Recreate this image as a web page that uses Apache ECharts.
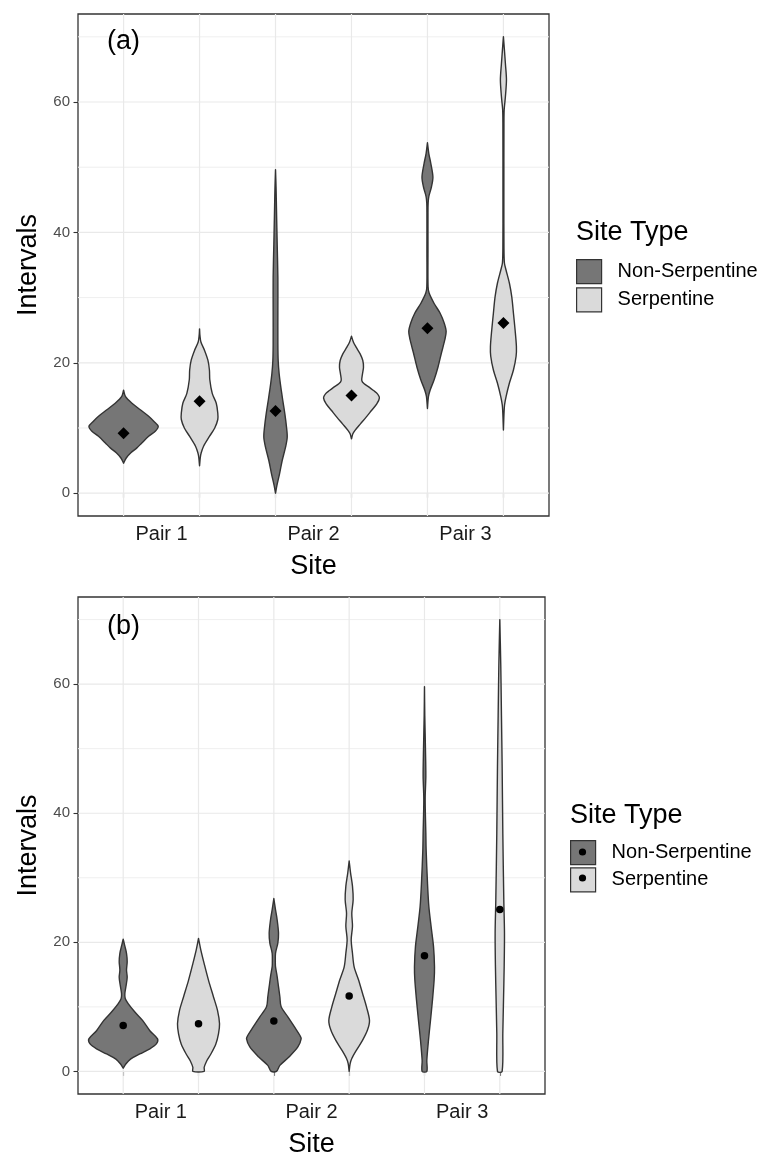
<!DOCTYPE html>
<html>
<head>
<meta charset="utf-8">
<script src="https://cdn.jsdelivr.net/npm/echarts@6/dist/echarts.min.js"></script>
<style>
  html, body { margin: 0; padding: 0; background: #fff; }
  #chart { width: 771px; height: 1153px; }
</style>
</head>
<body>
<div id="chart"></div>
<script>
// ---- categories and tick labels ----
const sites = ['Pair 1', 'Pair 2', 'Pair 3'];
const siteTypes = ['Non-Serpentine', 'Serpentine'];
const yTickValues = [0, 20, 40, 60];
const yMinorGrid = [10, 30, 50, 70];
const violinSlots = [1, 2, 3, 4, 5, 6];     // one slot per site x type
const pairLabelSlots = [1.5, 3.5, 5.5];     // Pair labels sit between their two violins

// ---- means (marker positions) ----
const meanA_non = [9.2, 12.6, 25.3];
const meanA_serp = [14.1, 15.0, 26.1];
const meanB_non = [7.1, 7.8, 17.9];
const meanB_serp = [7.4, 11.7, 25.1];

// ---- density outlines: [interval value, half width in slot units] ----
const densA_non_p1 = [[4.6,0],[5.4,0.035],[6.2,0.096],[6.95,0.175],[7.7,0.24],[8.73,0.33],[9.5,0.417],[10.25,0.456],[11.0,0.40],[11.8,0.33],[12.8,0.22],[13.8,0.11],[14.8,0.026],[15.8,0]];
const densA_serp_p1 = [[4.2,0],[5.5,0.01],[6.2,0.022],[7.2,0.053],[8.7,0.13],[10.0,0.2],[11.3,0.24],[12.3,0.24],[13.8,0.22],[15.3,0.167],[17.4,0.135],[18.9,0.13],[20.4,0.11],[21.9,0.066],[23.2,0.018],[24.2,0.005],[25.2,0]];
const densA_non_p2 = [[0,0],[1.18,0.018],[2.97,0.053],[5.01,0.088],[7.06,0.132],[8.59,0.154],[10.12,0.145],[12.17,0.123],[14.21,0.096],[16.26,0.07],[18.3,0.048],[20.35,0.035],[22.9,0.031],[28.0,0.031],[33.1,0.031],[38.2,0.022],[43.4,0.013],[46.9,0.007],[49.6,0]];
const densA_serp_p2 = [[8.33,0],[9.1,0.018],[9.6,0.044],[10.63,0.118],[11.66,0.193],[12.68,0.263],[13.7,0.333],[14.62,0.368],[15.24,0.342],[15.74,0.29],[16.26,0.232],[16.77,0.167],[17.28,0.136],[18.3,0.145],[19.3,0.158],[20.35,0.149],[21.37,0.114],[22.4,0.061],[23.16,0.026],[24.08,0]];
const densA_non_p3 = [[13.0,0],[14.8,0.013],[15.8,0.035],[17.4,0.088],[19.4,0.14],[21.5,0.184],[23.5,0.228],[24.8,0.246],[26.1,0.22],[27.6,0.167],[29.1,0.088],[30.7,0.022],[31.7,0.008],[37.0,0.007],[43.0,0.007],[44.5,0.009],[45.5,0.018],[47.0,0.053],[48.5,0.072],[50.6,0.044],[52.1,0.018],[53.75,0]];
const densA_serp_p3 = [[9.7,0],[13.3,0.013],[14.8,0.035],[16.9,0.079],[18.9,0.132],[21.0,0.167],[22.5,0.171],[25.0,0.154],[27.6,0.132],[30.1,0.11],[32.2,0.079],[34.2,0.035],[35.3,0.013],[37.8,0.007],[45.0,0.006],[56.7,0.007],[58.8,0.01],[60.8,0.026],[63.4,0.04],[65.9,0.026],[68.0,0.013],[70.0,0]];

const densB_non_p1 = [[0.5,0],[1.14,0.035],[1.9,0.097],[2.7,0.22],[3.5,0.354],[4.26,0.44],[5.04,0.456],[6.3,0.354],[7.9,0.257],[9.2,0.155],[10.5,0.066],[11.3,0.027],[12.05,0.022],[13.4,0.04],[14.6,0.053],[15.7,0.044],[17.0,0.053],[18.3,0.044],[19.6,0.018],[20.5,0]];
const densB_serp_p1 = [[0,0.075],[0.62,0.075],[1.66,0.11],[2.7,0.164],[4.26,0.23],[5.82,0.265],[7.38,0.279],[9.45,0.252],[11.5,0.2],[14.1,0.133],[16.7,0.075],[18.8,0.031],[20.6,0]];
const densB_non_p2 = [[0,0.035],[0.93,0.08],[2.23,0.2],[3.79,0.319],[5.09,0.363],[5.6,0.345],[6.9,0.274],[8.46,0.186],[10.0,0.097],[11.57,0.08],[13.13,0.062],[14.69,0.044],[16.24,0.022],[16.76,0.02],[18.3,0.022],[19.88,0.053],[21.43,0.062],[23.5,0.044],[25.07,0.022],[26.78,0]];
const densB_serp_p2 = [[0,0],[1.2,0.013],[2.0,0.035],[3.3,0.097],[4.8,0.177],[6.4,0.243],[7.9,0.27],[10.0,0.23],[12.1,0.177],[14.2,0.124],[16.2,0.066],[18.3,0.044],[20.4,0.027],[22.5,0.044],[24.5,0.035],[26.6,0.053],[28.7,0.044],[30.8,0.018],[32.6,0]];
const densB_non_p3 = [[0,0.031],[1.71,0.031],[4.82,0.053],[7.93,0.08],[11.04,0.106],[14.15,0.128],[16.22,0.133],[19.33,0.12],[22.44,0.088],[25.54,0.058],[29.17,0.04],[34.35,0.022],[36.94,0.018],[42.12,0.009],[45.75,0.018],[49.9,0.013],[55.1,0.004],[59.6,0]];
const densB_serp_p3 = [[0,0.031],[5.9,0.04],[11.0,0.049],[16.2,0.058],[21.4,0.062],[26.6,0.053],[36.9,0.04],[47.3,0.031],[55.1,0.022],[62.8,0.013],[70.0,0]];

// ---- styling ----
const FONT = "'Liberation Sans', Arial, Helvetica, sans-serif";
const fillNon = '#767676';
const fillSerp = '#dadada';
const outline = '#333333';
const X_MIN = 0.4, X_MAX = 6.6, Y_MIN = -3.5, Y_MAX = 73.5;

const grids = [
  { left: 78, top: 14, width: 471, height: 502 },
  { left: 78, top: 597, width: 467, height: 497 }
];
const legendPos = [
  { left: 576, top: 259, gap: 3, titleTop: 219 },
  { left: 570, top: 840, gap: 2, titleTop: 802 }
];
const KEY_W = 25, KEY_H = 24;

function slotOf(pairIdx, typeIdx) { return violinSlots[pairIdx * 2 + typeIdx]; }

// light panel grid lines, drawn through the panel's own axes
function gridLineSeries(g) {
  const data = [];
  yTickValues.forEach(v => data.push([0, v]));
  yMinorGrid.forEach(v => data.push([1, v]));
  violinSlots.forEach(v => data.push([2, v]));
  return {
    type: 'custom', xAxisIndex: g, yAxisIndex: g, silent: true, z: 1,
    data: data, encode: { x: 1, y: 1 },
    renderItem(params, api) {
      const kind = api.value(0), v = api.value(1);
      let a, b;
      if (kind === 2) { a = api.coord([v, Y_MIN]); b = api.coord([v, Y_MAX]); }
      else { a = api.coord([X_MIN, v]); b = api.coord([X_MAX, v]); }
      return {
        type: 'line',
        shape: { x1: a[0], y1: a[1], x2: b[0], y2: b[1] },
        style: { stroke: kind === 1 ? '#efefef' : '#e9e9e9', lineWidth: kind === 1 ? 1 : 1.2 }
      };
    }
  };
}

function violinSeries(g, typeIdx, profiles, means, fill) {
  return {
    type: 'custom', name: siteTypes[typeIdx], xAxisIndex: g, yAxisIndex: g, z: 3,
    clip: false, silent: true,
    itemStyle: { color: fill, borderColor: outline },
    data: means.map((m, p) => [slotOf(p, typeIdx), m]),
    encode: { x: 0, y: 1 },
    renderItem(params, api) {
      const prof = profiles[params.dataIndex];
      const cx = api.value(0);
      const right = prof.map(d => api.coord([cx + d[1], d[0]]));
      const left = prof.slice().reverse().map(d => api.coord([cx - d[1], d[0]]));
      return {
        type: 'polygon',
        shape: { points: right.concat(left), smooth: 0.3 },
        style: { fill: fill, stroke: outline, lineWidth: 1.4, lineJoin: 'round' }
      };
    }
  };
}

function meanSeries(g, typeIdx, means, symbol, size) {
  return {
    type: 'scatter', xAxisIndex: g, yAxisIndex: g, z: 4, silent: true,
    symbol: symbol, symbolSize: size,
    itemStyle: { color: '#000', opacity: 1 },
    data: means.map((m, p) => [slotOf(p, typeIdx), m])
  };
}

function xAxisFor(g, nameGap, labelMargin) {
  return {
    type: 'value', gridIndex: g, min: X_MIN, max: X_MAX,
    splitLine: { show: false },
    axisLine: { show: false },
    axisTick: { show: true, customValues: violinSlots, length: 4.5, lineStyle: { color: outline, width: 1.1 } },
    axisLabel: {
      show: true, customValues: pairLabelSlots, margin: labelMargin,
      fontSize: 20, color: '#1a1a1a', fontFamily: FONT,
      formatter: v => sites[pairLabelSlots.indexOf(v)] || ''
    },
    name: 'Site', nameLocation: 'middle', nameGap: nameGap,
    nameTextStyle: { fontSize: 27, color: '#000', fontFamily: FONT }
  };
}

function yAxisFor(g) {
  return {
    type: 'value', gridIndex: g, min: Y_MIN, max: Y_MAX,
    splitLine: { show: false },
    axisLine: { show: false },
    axisTick: { show: true, customValues: yTickValues, length: 4.5, lineStyle: { color: outline, width: 1.1 } },
    axisLabel: { show: true, customValues: yTickValues, margin: 8, fontSize: 15, color: '#4d4d4d', fontFamily: FONT },
    name: 'Intervals', nameLocation: 'middle', nameGap: 35,
    nameTextStyle: { fontSize: 27, color: '#000', fontFamily: FONT }
  };
}

function legendFor(i) {
  const L = legendPos[i];
  return {
    data: siteTypes, orient: 'vertical', left: L.left, top: L.top, padding: 0,
    itemWidth: KEY_W, itemHeight: KEY_H, itemGap: L.gap, icon: 'rect',
    selectedMode: false,
    itemStyle: { borderColor: outline, borderWidth: 1.2 },
    textStyle: { fontSize: 20, color: '#000', fontFamily: FONT, padding: [0, 0, 0, 11] }
  };
}

const titleStyle = { fontSize: 27, fontWeight: 'normal', color: '#000', fontFamily: FONT };

// dots inside the panel (b) legend keys, centred on each key
const legendDots = siteTypes.map((t, i) => ({
  type: 'circle', silent: true, z: 100,
  shape: {
    cx: legendPos[1].left + KEY_W / 2,
    cy: legendPos[1].top + KEY_H / 2 + i * (KEY_H + legendPos[1].gap),
    r: 3.6
  },
  style: { fill: '#000' }
}));

const option = {
  animation: false,
  backgroundColor: '#fff',
  textStyle: { fontFamily: FONT },
  title: [
    { text: '(a)', left: 107, top: 28, padding: 0, textStyle: titleStyle },
    { text: '(b)', left: 107, top: 613, padding: 0, textStyle: titleStyle },
    { text: 'Site Type', left: legendPos[0].left, top: legendPos[0].titleTop, padding: 0, textStyle: titleStyle },
    { text: 'Site Type', left: legendPos[1].left, top: legendPos[1].titleTop, padding: 0, textStyle: titleStyle }
  ],
  legend: [legendFor(0), legendFor(1)],
  grid: grids.map(g => Object.assign({
    show: true, borderColor: outline, borderWidth: 1.3, backgroundColor: '#fff',
    containLabel: false, outerBoundsMode: 'none'
  }, g)),
  xAxis: [xAxisFor(0, 37, 8), xAxisFor(1, 37, 8)],
  yAxis: [yAxisFor(0), yAxisFor(1)],
  graphic: legendDots,
  series: [
    gridLineSeries(0),
    gridLineSeries(1),
    violinSeries(0, 0, [densA_non_p1, densA_non_p2, densA_non_p3], meanA_non, fillNon),
    violinSeries(0, 1, [densA_serp_p1, densA_serp_p2, densA_serp_p3], meanA_serp, fillSerp),
    violinSeries(1, 0, [densB_non_p1, densB_non_p2, densB_non_p3], meanB_non, fillNon),
    violinSeries(1, 1, [densB_serp_p1, densB_serp_p2, densB_serp_p3], meanB_serp, fillSerp),
    meanSeries(0, 0, meanA_non, 'diamond', 12),
    meanSeries(0, 1, meanA_serp, 'diamond', 12),
    meanSeries(1, 0, meanB_non, 'circle', 7.5),
    meanSeries(1, 1, meanB_serp, 'circle', 7.5)
  ]
};

const chart = echarts.init(document.getElementById('chart'), null, { renderer: 'canvas' });
chart.setOption(option);
</script>
</body>
</html>
